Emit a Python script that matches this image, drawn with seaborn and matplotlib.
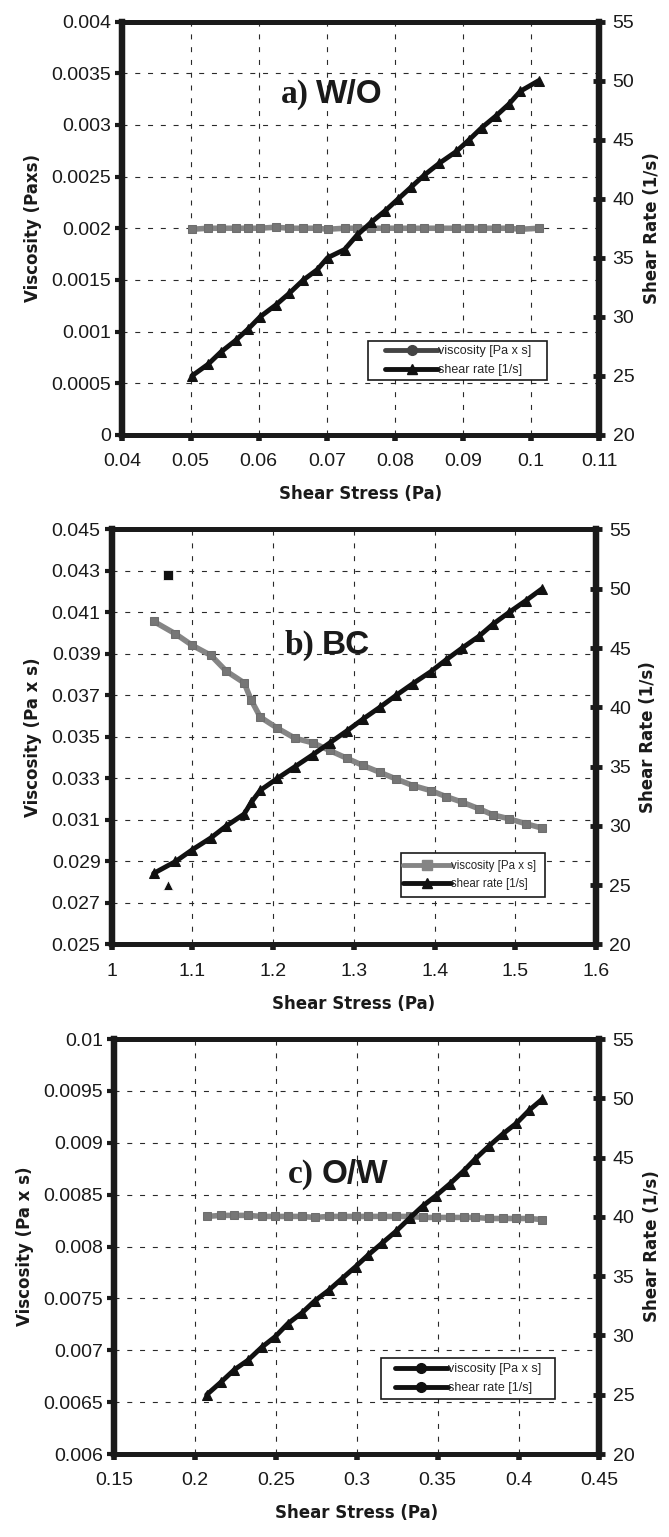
import matplotlib
matplotlib.use('Agg')
import matplotlib.pyplot as plt
import seaborn as sns
from matplotlib.lines import Line2D
from matplotlib.patches import Rectangle

# ---------------------------
# DATA
# ---------------------------
# a) W/O
WO_STRESS = [0.0502, 0.0526, 0.0544, 0.0566, 0.0585, 0.0602, 0.0625, 0.0645, 0.0665,
             0.0686, 0.0701, 0.0726, 0.0744, 0.0765, 0.0786, 0.0805, 0.0824, 0.0843,
             0.0865, 0.0890, 0.0909, 0.0927, 0.0948, 0.0967, 0.0984, 0.1011]
WO_RATE = [25, 26, 27, 28, 29, 30, 31, 32, 33.1, 34, 35, 35.7, 36.9, 38, 39, 40, 41,
           42, 43, 44, 45, 46, 47, 48, 49.1, 50]
WO_VISC = [0.00199, 0.00200, 0.00200, 0.00200, 0.00200, 0.00200, 0.00201, 0.00200,
           0.00200, 0.00200, 0.00199, 0.00200, 0.00200, 0.00200, 0.00200, 0.00200,
           0.00200, 0.00200, 0.00200, 0.00200, 0.00200, 0.00200, 0.00200, 0.00200,
           0.00199, 0.00200]

# b) BC
BC_STRESS = [1.052, 1.079, 1.100, 1.123, 1.142, 1.164, 1.173, 1.184, 1.205, 1.227,
             1.249, 1.270, 1.291, 1.311, 1.332, 1.352, 1.373, 1.395, 1.414, 1.434,
             1.455, 1.472, 1.492, 1.513, 1.533]
BC_RATE = [26, 27, 28, 29, 30, 31, 32, 33, 34, 35, 36, 37, 38, 39, 40, 41, 42, 43,
           44, 45, 46, 47, 48, 49, 50]
BC_VISC = [0.04057, 0.03997, 0.03941, 0.03893, 0.03817, 0.03761, 0.03676, 0.03596,
           0.03543, 0.03494, 0.03472, 0.03435, 0.03398, 0.03363, 0.03330, 0.03298,
           0.03266, 0.03242, 0.03213, 0.03186, 0.03154, 0.03125, 0.03106, 0.03082,
           0.03061]
# first (detached) point of BC
BC_FIRST_STRESS = [1.07]
BC_FIRST_RATE = [25]
BC_FIRST_VISC = [0.0428]

# c) O/W
OW_STRESS = [0.2071, 0.2162, 0.2241, 0.2325, 0.2411, 0.2495, 0.2573, 0.2660, 0.2738,
             0.2825, 0.2908, 0.2992, 0.3071, 0.3157, 0.3243, 0.3327, 0.3406, 0.3490,
             0.3576, 0.3662, 0.3733, 0.3819, 0.3903, 0.3987, 0.4066, 0.4144]
OW_RATE = [25, 26.1, 27.1, 27.9, 29, 29.9, 31, 31.9, 32.9, 33.8, 34.8, 35.8, 36.8,
           37.8, 38.8, 39.9, 40.9, 41.8, 42.8, 43.9, 44.9, 46, 47, 47.9, 49, 49.9]
OW_VISC = [0.00829, 0.00830, 0.00830, 0.00830, 0.00829, 0.00829, 0.00829, 0.00829,
           0.00828, 0.00829, 0.00829, 0.00829, 0.00829, 0.00829, 0.00829, 0.00829,
           0.00828, 0.00828, 0.00828, 0.00828, 0.00828, 0.00827, 0.00827, 0.00827,
           0.00827, 0.00826]

# tick values / labels
WO_XTICKS = [0.04, 0.05, 0.06, 0.07, 0.08, 0.09, 0.10, 0.11]
WO_XLABELS = ['0.04', '0.05', '0.06', '0.07', '0.08', '0.09', '0.1', '0.11']
WO_YTICKS = [0, 0.0005, 0.001, 0.0015, 0.002, 0.0025, 0.003, 0.0035, 0.004]
WO_YLABELS = ['0', '0.0005', '0.001', '0.0015', '0.002', '0.0025', '0.003', '0.0035', '0.004']

BC_XTICKS = [1.0, 1.1, 1.2, 1.3, 1.4, 1.5, 1.6]
BC_XLABELS = ['1', '1.1', '1.2', '1.3', '1.4', '1.5', '1.6']
BC_YTICKS = [0.025, 0.027, 0.029, 0.031, 0.033, 0.035, 0.037, 0.039, 0.041, 0.043, 0.045]
BC_YLABELS = ['0.025', '0.027', '0.029', '0.031', '0.033', '0.035', '0.037', '0.039',
              '0.041', '0.043', '0.045']

OW_XTICKS = [0.15, 0.20, 0.25, 0.30, 0.35, 0.40, 0.45]
OW_XLABELS = ['0.15', '0.2', '0.25', '0.3', '0.35', '0.4', '0.45']
OW_YTICKS = [0.006, 0.0065, 0.007, 0.0075, 0.008, 0.0085, 0.009, 0.0095, 0.01]
OW_YLABELS = ['0.006', '0.0065', '0.007', '0.0075', '0.008', '0.0085', '0.009', '0.0095', '0.01']

RATE_TICKS = [20, 25, 30, 35, 40, 45, 50, 55]
LEGEND_LABELS = ['viscosity [Pa x s]', 'shear rate [1/s]']

VISC_GRAY = '#858585'
SANS = ['Liberation Sans', 'DejaVu Sans']
HEAVY = ['DejaVu Sans']
SERIF = ['Liberation Serif', 'DejaVu Serif']

sns.set_theme(style='white')
plt.rcParams['font.family'] = SANS


def draw_panel(fig, rect, stress, visc, rate, xticks, xlabels, yticks, ylabels,
               ylabel, tag, name, title_xy, leg_box, leg_anchor, leg_size, leg_style):
    ax = fig.add_axes(rect)
    ax2 = ax.twinx()

    sns.lineplot(x=stress, y=visc, ax=ax, color=VISC_GRAY, lw=4, marker='s',
                 markersize=6, markeredgecolor='#6e6e6e', markerfacecolor='#767676',
                 sort=False, legend=False)
    sns.lineplot(x=stress, y=rate, ax=ax2, color='#111111', lw=3.5, marker='^',
                 markersize=7, markeredgecolor='#111111', sort=False, legend=False)

    ax.set_xlim(xticks[0], xticks[-1])
    ax.set_ylim(yticks[0], yticks[-1])
    ax2.set_ylim(RATE_TICKS[0], RATE_TICKS[-1])
    ax.set_xticks(xticks)
    ax.set_xticklabels(xlabels, fontsize=14)
    ax.set_yticks(yticks)
    ax.set_yticklabels(ylabels, fontsize=14)
    ax2.set_yticks(RATE_TICKS)
    ax2.set_yticklabels([str(t) for t in RATE_TICKS], fontsize=14)

    ax.grid(True, color='#2a2a2a', lw=0.8, ls=(0, (4.5, 7)))
    ax.set_axisbelow(True)
    for a in (ax, ax2):
        for side, s in a.spines.items():
            s.set_linewidth(4.5 if side in ('left', 'right') else 3.5)
            s.set_color('#1a1a1a')
    ax.tick_params(axis='x', direction='out', length=4, width=4, pad=9,
                   colors='#1a1a1a', bottom=True)
    ax.tick_params(axis='y', direction='out', length=5, width=3, pad=3,
                   colors='#1a1a1a', left=True)
    ax2.tick_params(axis='y', direction='inout', length=9, width=3.5, pad=5,
                    colors='#1a1a1a', right=True)

    ax.set_xlabel('Shear Stress (Pa)', fontsize=12, fontweight='bold',
                  family=HEAVY, labelpad=11, color='#1a1a1a')
    ax.set_ylabel(ylabel, fontsize=12, fontweight='bold', family=HEAVY,
                  labelpad=7, color='#1a1a1a')
    ax2.set_ylabel('Shear Rate (1/s)', fontsize=12, fontweight='bold',
                   family=HEAVY, labelpad=6, color='#1a1a1a')

    t1 = ax.text(title_xy[0], title_xy[1], tag, fontsize=24, fontweight='bold',
                 family=SERIF, ha='left', va='center', color='#1a1a1a')
    ax.annotate(name, xy=(1, 0.5), xycoords=t1, xytext=(5, 0),
                textcoords='offset points', fontsize=24, fontweight='bold',
                family=SANS, ha='left', va='center', color='#1a1a1a')

    # legend: box drawn separately so its padding can follow the original
    x0, y0, x1, y1 = leg_box
    ax2.add_patch(Rectangle((x0, y0), x1 - x0, y1 - y0, transform=ax2.transAxes,
                            facecolor='white', edgecolor='#1a1a1a', lw=1.2,
                            zorder=4, clip_on=False))
    vcol, vmark, rmark = leg_style
    handles = [Line2D([], [], color=vcol, lw=3.5, marker=vmark, markersize=7),
               Line2D([], [], color='#111111', lw=3.5, marker=rmark, markersize=7)]
    leg = ax2.legend(handles, LEGEND_LABELS, loc='center left',
                     bbox_to_anchor=leg_anchor, fontsize=leg_size,
                     handlelength=4.2, handletextpad=0.0, borderpad=0,
                     labelspacing=0.55, borderaxespad=0, frameon=False)
    leg.set_zorder(5)
    return ax, ax2


fig = plt.figure(figsize=(6.69, 15.37), dpi=100)

draw_panel(fig, [0.183, 0.717, 0.713, 0.269], WO_STRESS, WO_VISC, WO_RATE,
           WO_XTICKS, WO_XLABELS, WO_YTICKS, WO_YLABELS, 'Viscosity (Paxs)',
           'a)', 'W/O', (0.0633, 0.00329),
           (0.515, 0.133, 0.890, 0.227), (0.551, 0.180), 9, ('#444444', 'o', '^'))

ax_b, ax2_b = draw_panel(fig, [0.167, 0.3855, 0.724, 0.270], BC_STRESS, BC_VISC, BC_RATE,
                         BC_XTICKS, BC_XLABELS, BC_YTICKS, BC_YLABELS, 'Viscosity (Pa x s)',
                         'b)', 'BC', (1.214, 0.0394),
                         (0.598, 0.114, 0.894, 0.220), (0.601, 0.167), 8.3,
                         (VISC_GRAY, 's', '^'))
sns.scatterplot(x=BC_FIRST_STRESS, y=BC_FIRST_VISC, ax=ax_b, marker='s', s=45,
                color='#111111', legend=False)
sns.scatterplot(x=BC_FIRST_STRESS, y=BC_FIRST_RATE, ax=ax2_b, marker='^', s=50,
                color='#111111', legend=False)

draw_panel(fig, [0.171, 0.054, 0.725, 0.270], OW_STRESS, OW_VISC, OW_RATE,
           OW_XTICKS, OW_XLABELS, OW_YTICKS, OW_YLABELS, 'Viscosity (Pa x s)',
           'c)', 'O/W', (0.2575, 0.00869),
           (0.550, 0.133, 0.909, 0.231), (0.579, 0.182), 9, ('#111111', 'o', 'o'))

fig.savefig('out.png', dpi=100)
